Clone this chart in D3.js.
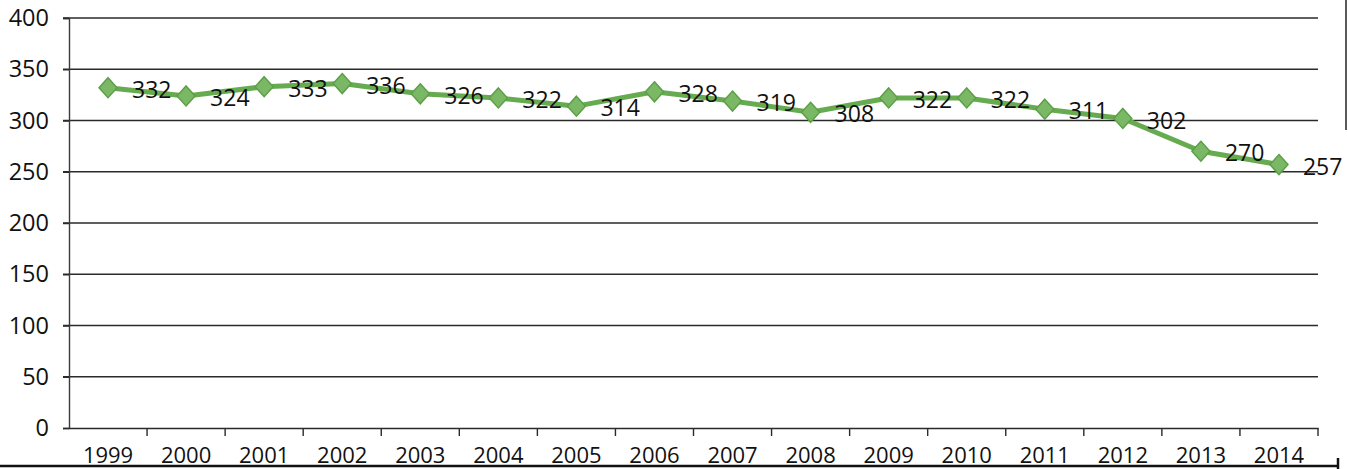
<!DOCTYPE html>
<html><head><meta charset="utf-8">
<script src="https://cdn.jsdelivr.net/npm/d3@7"></script>
<style>
html,body{margin:0;padding:0;background:#fff;}
svg{display:block;}
text{font-family:"Open Sans",sans-serif;fill:#111;}
</style></head>
<body>
<svg id="c" width="1348" height="469"></svg>
<script>
const years = ["1999","2000","2001","2002","2003","2004","2005","2006","2007","2008","2009","2010","2011","2012","2013","2014"];
const values = [332,324,333,336,326,322,314,328,319,308,322,322,311,302,270,257];
const yTicks = [0,50,100,150,200,250,300,350,400];

const svg = d3.select("#c");
const m = {l:69, r:30, t:18, b:41};
const W = 1348, H = 469;
const x = d3.scaleBand().domain(years).range([m.l, W - m.r]).padding(0);
const y = d3.scaleLinear().domain([0,400]).range([H - m.b, m.t]);

// gridlines
svg.append("g").selectAll("line").data(yTicks.filter(d=>d>0)).join("line")
  .attr("x1", m.l - 6).attr("x2", W - m.r)
  .attr("y1", d=>y(d)).attr("y2", d=>y(d))
  .attr("stroke","#2a2a2a").attr("stroke-width",1.5);

// y axis
const ya = svg.append("g").attr("transform",`translate(${m.l},0)`)
  .call(d3.axisLeft(y).tickValues(yTicks).tickSize(6).tickPadding(14));
ya.select(".domain").attr("stroke","#3a3a3a").attr("stroke-width",1.4);
ya.selectAll(".tick line").attr("stroke","#2a2a2a").attr("stroke-width",1.5);
ya.selectAll("text").style("font-size","23.5px").style("fill","#111");

// x axis
const xa = svg.append("g").attr("transform",`translate(0,${y(0)})`)
  .call(d3.axisBottom(x).tickSize(0).tickPadding(19));
xa.select(".domain").attr("stroke","#2a2a2a").attr("stroke-width",1.5);
xa.selectAll("text").style("font-size","22px").style("fill","#111");
// band boundary ticks
svg.append("g").selectAll("line").data(years.slice(1).concat(["__end"])).join("line")
  .attr("x1", (d,i)=> i < years.length-1 ? x(d) : x(years[years.length-1]) + x.bandwidth())
  .attr("x2", (d,i)=> i < years.length-1 ? x(d) : x(years[years.length-1]) + x.bandwidth())
  .attr("y1", y(0)).attr("y2", y(0)+8)
  .attr("stroke","#2a2a2a").attr("stroke-width",1.4);

// line
const cx = d => x(d) + x.bandwidth()/2;
const line = d3.line().x((d,i)=>cx(years[i])).y(d=>y(d));
svg.append("path").datum(values).attr("d", line)
  .attr("fill","none").attr("stroke","#66ab4f").attr("stroke-width",5)
  .attr("stroke-linejoin","round");

// markers
svg.append("g").selectAll("path").data(values).join("path")
  .attr("transform",(d,i)=>`translate(${cx(years[i])},${y(d)})`)
  .attr("d","M0,-10L9,0L0,10L-9,0Z")
  .attr("fill","#7bb866").attr("stroke","#5d9f48").attr("stroke-width",1.5);

// labels
svg.append("g").selectAll("text").data(values).join("text")
  .attr("x",(d,i)=>cx(years[i]) + 24)
  .attr("y",(d)=>y(d) + 2)
  .attr("dy","0.35em")
  .style("font-size","23px")
  .text(d=>d);

// scan frame lines
svg.append("line").attr("x1",0).attr("x2",1338).attr("y1",466).attr("y2",466)
  .attr("stroke","#111").attr("stroke-width",2.5);
svg.append("line").attr("x1",1338).attr("x2",1338).attr("y1",458).attr("y2",469)
  .attr("stroke","#111").attr("stroke-width",2.5);
svg.append("line").attr("x1",1346).attr("x2",1346).attr("y1",0).attr("y2",130)
  .attr("stroke","#222").attr("stroke-width",1.5);
</script>
</body></html>
